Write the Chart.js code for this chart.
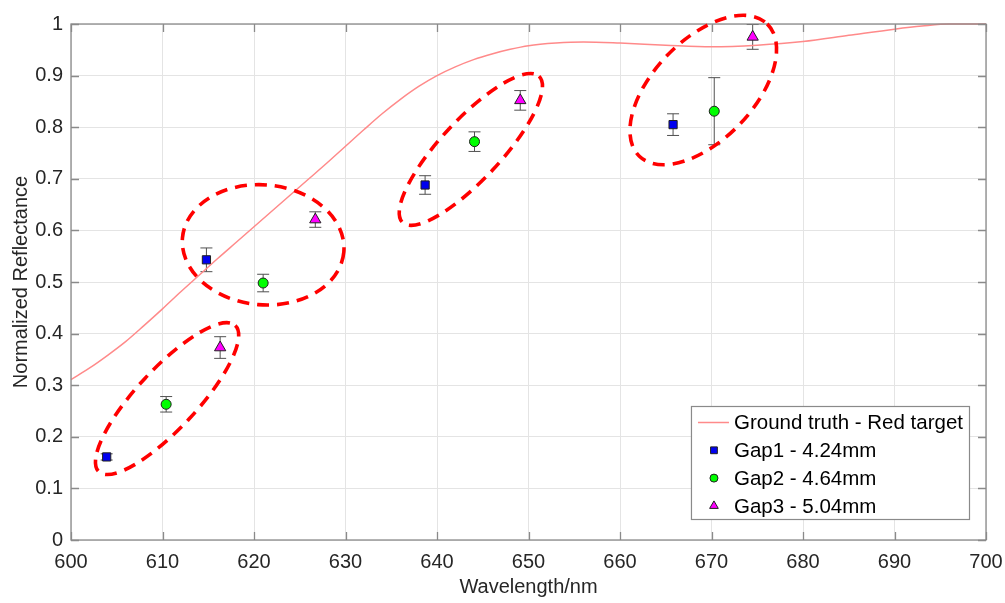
<!DOCTYPE html>
<html>
<head>
<meta charset="utf-8">
<script src="https://cdn.jsdelivr.net/npm/chart.js@4.4.1/dist/chart.umd.min.js"></script>
<style>
html,body{margin:0;padding:0;background:#fff;}
#wrap{width:1005px;height:603px;position:relative;}
</style>
</head>
<body>
<div id="wrap"><canvas id="c" width="1005" height="603"></canvas></div>
<script>
// ---- data ----
const xTickLabels = ['600','610','620','630','640','650','660','670','680','690','700'];
const yTickLabels = ['0','0.1','0.2','0.3','0.4','0.5','0.6','0.7','0.8','0.9','1'];

const groundTruthLabel = 'Ground truth - Red target';
const gtWavelength = [600,602,604,606,608,610,612,614,616,618,620,622,624,626,628,630,632,634,636,638,640,642,644,646,648,650,653,656,660,665,670,675,680,685,690,693,696,700];
const gtReflectance = [0.311,0.333,0.358,0.385,0.416,0.448,0.481,0.513,0.545,0.576,0.607,0.638,0.669,0.700,0.731,0.763,0.795,0.826,0.854,0.879,0.900,0.917,0.931,0.942,0.951,0.958,0.963,0.965,0.963,0.959,0.956,0.959,0.966,0.978,0.990,0.996,1.0,1.0];

const gap1Label = 'Gap1 - 4.24mm';
const gap1Wavelength = [603.9, 614.8, 638.7, 665.8];
const gap1Reflectance = [0.161, 0.543, 0.688, 0.805];
const gap1Error = [0.006, 0.023, 0.018, 0.021];

const gap2Label = 'Gap2 - 4.64mm';
const gap2Wavelength = [610.4, 621.0, 644.1, 670.3];
const gap2Reflectance = [0.263, 0.498, 0.772, 0.831];
const gap2Error = [0.015, 0.017, 0.019, 0.065];

const gap3Label = 'Gap3 - 5.04mm';
const gap3Wavelength = [616.3, 626.7, 649.1, 674.5];
const gap3Reflectance = [0.373, 0.621, 0.852, 0.975];
const gap3Error = [0.021, 0.015, 0.019, 0.024];

// dashed annotation ellipses grouping the measurements (centre in data units)
const groupCentreWavelength = [610.5, 621.0, 643.7, 669.1];
const groupCentreReflectance = [0.274, 0.572, 0.757, 0.872];

// ---- styles ----
const FONT = '"Liberation Sans", Arial, Helvetica, sans-serif';
const ellipseShapes = [
  {rx: 100, ry: 30, rot: -47},
  {rx: 81, ry: 60, rot: 5},
  {rx: 100, ry: 30, rot: -47},
  {rx: 92, ry: 50, rot: -46}
];

const toPts = (xs, ys) => xs.map((x, i) => ({x: x, y: ys[i]}));
const errorSets = [null, gap1Error, gap2Error, gap3Error];

function drawMarkerPath(ctx, style, r, x, y) {
  if (style === 'rect') {
    const s = r * Math.SQRT1_2;
    ctx.rect(x - s, y - s, 2 * s, 2 * s);
  } else if (style === 'circle') {
    ctx.arc(x, y, r, 0, Math.PI * 2);
  } else if (style === 'triangle') {
    ctx.moveTo(x, y - r);
    ctx.lineTo(x + r * Math.sin(2 * Math.PI / 3), y + r / 2);
    ctx.lineTo(x - r * Math.sin(2 * Math.PI / 3), y + r / 2);
    ctx.closePath();
  }
}

const matlabPlugin = {
  id: 'matlabPlugin',
  beforeDatasetsDraw(chart) {
    const ctx = chart.ctx, xs = chart.scales.x, ys = chart.scales.y;
    ctx.save();
    ctx.strokeStyle = '#505050';
    ctx.lineWidth = 1;
    chart.data.datasets.forEach((ds, di) => {
      const errs = errorSets[di];
      if (!errs) return;
      ds.data.forEach((p, i) => {
        const px = xs.getPixelForValue(p.x);
        const yt = ys.getPixelForValue(p.y + errs[i]);
        const yb = ys.getPixelForValue(p.y - errs[i]);
        ctx.beginPath();
        ctx.moveTo(px, yt); ctx.lineTo(px, yb);
        ctx.moveTo(px - 6, yt); ctx.lineTo(px + 6, yt);
        ctx.moveTo(px - 6, yb); ctx.lineTo(px + 6, yb);
        ctx.stroke();
      });
    });
    ctx.restore();
  },
  afterDraw(chart) {
    const ctx = chart.ctx, xs = chart.scales.x, ys = chart.scales.y;
    const a = chart.chartArea;
    ctx.save();
    // axes box with inward ticks
    ctx.strokeStyle = '#8a8a8a';
    ctx.lineWidth = 1.3;
    ctx.strokeRect(a.left, a.top, a.right - a.left, a.bottom - a.top);
    const tl = 8;
    ctx.beginPath();
    xTickLabels.forEach(t => {
      const px = Math.round(xs.getPixelForValue(parseFloat(t))) + 0.5;
      ctx.moveTo(px, a.bottom); ctx.lineTo(px, a.bottom - tl);
      ctx.moveTo(px, a.top); ctx.lineTo(px, a.top + tl);
    });
    yTickLabels.forEach(t => {
      const py = Math.round(ys.getPixelForValue(parseFloat(t))) + 0.5;
      ctx.moveTo(a.left, py); ctx.lineTo(a.left + tl, py);
      ctx.moveTo(a.right, py); ctx.lineTo(a.right - tl, py);
    });
    ctx.stroke();

    // dashed ellipses
    ctx.strokeStyle = '#ff0000';
    ctx.lineWidth = 3.6;
    ctx.setLineDash([12, 8]);
    groupCentreWavelength.forEach((w, i) => {
      const s = ellipseShapes[i];
      const cx = xs.getPixelForValue(w);
      const cy = ys.getPixelForValue(groupCentreReflectance[i]);
      ctx.beginPath();
      ctx.ellipse(cx, cy, s.rx, s.ry, s.rot * Math.PI / 180, 0, Math.PI * 2);
      ctx.stroke();
    });
    ctx.setLineDash([]);

    // legend
    ctx.font = '20.5px ' + FONT;
    const dsets = chart.data.datasets;
    let tw = 0;
    dsets.forEach(d => { tw = Math.max(tw, ctx.measureText(d.label).width); });
    const boxW = 43 + tw + 6, boxH = 113;
    const boxR = a.right - 17, boxB = a.bottom - 21;
    const boxL = boxR - boxW, boxT = boxB - boxH;
    ctx.fillStyle = '#ffffff';
    ctx.fillRect(boxL, boxT, boxW, boxH);
    ctx.strokeStyle = '#8a8a8a';
    ctx.lineWidth = 1.2;
    ctx.strokeRect(boxL + 0.5, boxT + 0.5, boxW, boxH);
    dsets.forEach((d, i) => {
      const cy = boxT + 16.5 + i * 27.8;
      if (d.showLine) {
        ctx.strokeStyle = d.borderColor;
        ctx.lineWidth = 1.5;
        ctx.beginPath();
        ctx.moveTo(boxL + 7, cy); ctx.lineTo(boxL + 38, cy);
        ctx.stroke();
      } else {
        ctx.fillStyle = d.backgroundColor;
        ctx.strokeStyle = d.borderColor;
        ctx.lineWidth = 1;
        ctx.beginPath();
        drawMarkerPath(ctx, d.pointStyle, d.legendRadius, boxL + 23, cy);
        ctx.fill(); ctx.stroke();
      }
      ctx.fillStyle = '#000000';
      ctx.textBaseline = 'middle';
      ctx.textAlign = 'left';
      ctx.fillText(d.label, boxL + 43, cy + 1);
    });
    ctx.restore();
  }
};

const chart = new Chart(document.getElementById('c'), {
  type: 'scatter',
  data: {
    datasets: [
      {
        type: 'line',
        label: groundTruthLabel,
        data: toPts(gtWavelength, gtReflectance),
        showLine: true,
        borderColor: '#ff8a8a',
        backgroundColor: '#ff8a8a',
        borderWidth: 1.5,
        pointRadius: 0,
        cubicInterpolationMode: 'monotone',
        fill: false,
        clip: 4
      },
      {
        label: gap1Label,
        data: toPts(gap1Wavelength, gap1Reflectance),
        pointStyle: 'rect',
        pointRadius: 5.8,
        legendRadius: 4.8,
        backgroundColor: '#0000f0',
        borderColor: '#202020',
        borderWidth: 1,
        showLine: false,
        clip: false
      },
      {
        label: gap2Label,
        data: toPts(gap2Wavelength, gap2Reflectance),
        pointStyle: 'circle',
        pointRadius: 5,
        legendRadius: 4,
        backgroundColor: '#00ff00',
        borderColor: '#202020',
        borderWidth: 1,
        showLine: false,
        clip: false
      },
      {
        label: gap3Label,
        data: toPts(gap3Wavelength, gap3Reflectance),
        pointStyle: 'triangle',
        pointRadius: 6.5,
        legendRadius: 5,
        backgroundColor: '#ff00ff',
        borderColor: '#202020',
        borderWidth: 1,
        showLine: false,
        clip: false
      }
    ]
  },
  options: {
    responsive: false,
    animation: false,
    devicePixelRatio: 1,
    layout: {padding: {left: 0, right: 19, top: 24, bottom: 0}},
    plugins: {legend: {display: false}, tooltip: {enabled: false}},
    elements: {point: {hoverRadius: 5}},
    scales: {
      x: {
        type: 'linear',
        min: 600, max: 700,
        afterFit: s => { s.height = 63; s.paddingLeft = 0; s.paddingRight = 0; },
        afterBuildTicks: s => { s.ticks = xTickLabels.map(t => ({value: parseFloat(t)})); },
        ticks: {
          callback: v => xTickLabels.find(t => parseFloat(t) === v) || '',
          font: {family: FONT, size: 20},
          color: '#262626',
          padding: 10,
          maxRotation: 0,
          autoSkip: false
        },
        grid: {color: '#e4e4e4', lineWidth: 1, drawTicks: false},
        border: {display: false},
        title: {
          display: true, text: 'Wavelength/nm',
          font: {family: FONT, size: 20}, color: '#262626',
          padding: {top: 0, bottom: 4}
        }
      },
      y: {
        type: 'linear',
        min: 0, max: 1,
        afterFit: s => { s.width = 71; s.paddingTop = 0; s.paddingBottom = 0; },
        afterBuildTicks: s => { s.ticks = yTickLabels.map(t => ({value: parseFloat(t)})); },
        ticks: {
          callback: v => yTickLabels.find(t => Math.abs(parseFloat(t) - v) < 1e-9) || '',
          font: {family: FONT, size: 20},
          color: '#262626',
          padding: 8,
          autoSkip: false
        },
        grid: {color: '#e4e4e4', lineWidth: 1, drawTicks: false},
        border: {display: false},
        title: {
          display: true, text: 'Normalized Reflectance',
          font: {family: FONT, size: 20}, color: '#262626',
          padding: {top: 9, bottom: 0}
        }
      }
    }
  },
  plugins: [matlabPlugin]
});
</script>
</body>
</html>
